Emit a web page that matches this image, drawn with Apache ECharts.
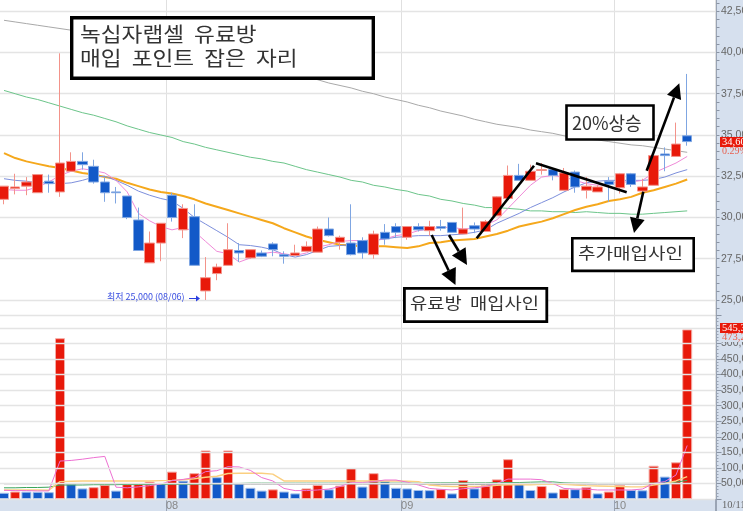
<!DOCTYPE html>
<html lang="ko">
<head>
    <meta charset="UTF-8">
    <title>녹십자랩셀</title>
    <script src="https://cdn.jsdelivr.net/npm/echarts@6/dist/echarts.min.js"></script>
    <style>html,body{margin:0;padding:0;background:#fff}</style>
</head>
<body>
<div id="main" style="width:743px;height:511px;"></div>
<script type="text/javascript">
var monthIndex = [15, 36, 55];
var monthNames = ['08', '09', '10'];
var priceTicks = [25000, 27500, 30000, 32500, 35000, 37500, 40000, 42500];

var opens = [
    31100,31750,31900,31500,32200,31550,32800,33400,33100,32150,
    31550,31300,29850,27250,28450,31350,29250,30050,25550,26600,
    27100,28000,27550,27850,28400,27750,27700,27950,27900,29300,
    28500,28450,28600,27750,29100,29450,28800,29450,29200,29450,
    29700,29000,29500,29150,30100,31150,32550,32250,32850,32900,
    31650,32750,31650,31550,32200,31800,32650,31600,31950,33850,
    33700,34950];
var closes = [
    31900,31850,32150,32600,32050,33300,33400,33200,32150,31500,
    31500,30000,28000,28450,29650,30000,30550,27100,26350,27000,
    28050,27850,28050,27650,28050,27650,27850,28250,29300,28900,
    28800,27750,27850,29000,28700,29100,29450,29250,29450,29350,
    29100,29300,29300,29750,31250,32550,32250,32800,32900,32550,
    32700,31850,31900,31850,32000,32650,32000,31850,33750,33750,
    34450,34600];
var lows = [
    30800,31400,31350,31500,31500,31250,32800,32900,32050,30950,
    30850,29900,28000,27250,27350,29750,28750,27100,25000,26200,
    27100,27300,27500,27600,27650,27200,27650,27950,27900,28850,
    28050,27700,27500,27500,28350,28750,28650,29150,28900,29200,
    29100,29000,29050,29150,30100,31150,32250,32250,32600,32250,
    31650,31500,31150,31550,30950,31450,31850,31550,31950,32800,
    33700,34350];
var highs = [
    31900,32650,32450,32600,32600,39950,33950,33950,33500,32450,
    31850,31300,30600,29150,29650,31500,30800,30800,27600,27200,
    29650,28450,28050,28000,28500,27950,28350,28550,29450,30000,
    28900,30800,28800,29200,29600,29650,29450,29650,29800,29850,
    29700,30600,29700,29850,31300,33150,33250,33200,33300,33000,
    33000,32850,32450,31950,32450,32700,32700,32350,33750,34250,
    35750,38700];

var ma5 = [
    31700,31650,31650,31850,32150,32550,32800,32950,32850,32700,
    32250,31550,30250,29800,29450,29250,29400,29150,28550,27950,
    27800,27300,27550,27800,27900,27800,27700,27850,28200,28350,
    28550,28600,28600,28650,28700,28900,29000,29200,29300,29400,
    29400,29300,29350,29550,29850,30550,31250,31950,32450,32550,
    32450,32250,32050,31950,32050,32150,32150,32250,32700,33000,
    33300,33700];
var ma20 = [
    32350,32250,32200,32100,32100,32050,32100,32250,32450,32500,
    32250,31950,31600,31350,31150,31000,30550,30000,29600,29200,
    28800,28350,28300,28200,28050,27750,27600,27750,28000,28250,
    28300,28350,28450,28600,28700,28800,28850,28900,28900,28900,
    28950,29000,29100,29250,29650,29950,30250,30600,30900,31200,
    31550,31850,32100,32200,32250,32250,32250,32250,32300,32450,
    32700,32900];
var ma60 = [
    33900,33600,33400,33250,33100,33000,32850,32700,32600,32450,
    32350,32100,31900,31700,31550,31450,31300,31100,30850,30650,
    30450,30250,30050,29850,29650,29350,29100,28850,28650,28500,
    28350,28300,28250,28250,28250,28200,28150,28250,28450,28500,
    28600,28650,28700,28850,29000,29200,29450,29600,29750,29950,
    30200,30450,30650,30800,31000,31100,31250,31500,31650,31850,
    32050,32300];
var ma120 = [
    37700,37500,37300,37150,36950,36750,36550,36350,36200,36000,
    35800,35550,35350,35150,35000,34850,34600,34450,34250,34100,
    33950,33800,33650,33550,33400,33300,33100,32900,32750,32600,
    32450,32250,32150,31950,31850,31700,31600,31400,31300,31100,
    31000,30850,30750,30600,30600,30550,30500,30400,30400,30350,
    30350,30300,30350,30300,30250,30250,30200,30200,30250,30300,
    30350,30400];
var ma240 = [
    41950,41850,41750,41650,41550,41450,41350,41250,41100,40950,
    40800,40700,40550,40400,40300,40150,40000,39850,39750,39600,
    39450,39350,39200,39050,38900,38800,38650,38500,38350,38150,
    38000,37850,37650,37500,37300,37150,37000,36800,36650,36450,
    36300,36150,35950,35800,35650,35550,35450,35300,35200,35100,
    34950,34850,34750,34700,34600,34500,34400,34350,34250,34150,
    34050,33950];

// 거래량 (단위: 천주)
var volumes = [
    20,24,23.5,23,22,517,48,34,38,45,
    27,48,48.5,56,50,88,59,83,156,70,
    156,50,36,27,31,24,18,34,45,31,
    43,99,40,83,58,36,34,29,28.5,32,
    18,61,34,44,63,128,50,29,42,21,
    32,31.5,38,18,24,45,29,28,107,72,
    118,545.3];
var volMa5 = [
    28,27,27,26,26,122,124,128,133,137,
    38,36,39,43,48,59,63,69,88,91,
    104,103,92,69,58,34,27,27,29,32,
    40,53,53,56,61,61,54,45,34,31,
    29,33,36,40,50,64,64,64,62,50,
    34,32,32,29,29,29,29,32,50,56,
    77,172];
var volMa20 = [
    29,29,29,29,28,56,57,58,58,58,
    58,58,58,58,59,60,62,65,70,73,
    82,83,83,83,80,58,58,58,58,58,
    58,58,58,58,58,58,57,56,45,42,
    40,40,40,41,44,46,46,46,47,47,
    47,45,43,42,41,40,39,39,45,50,
    58,72];
var volMa60 = [
    36,36,37,37,38,45,45,45,46,46,
    46,47,47,47,47,48,48,48,49,49,
    50,50,51,51,51,51,51,51,51,51,
    51,51,51,51,51,51,51,51,52,52,
    52,52,52,52,53,53,53,54,55,55,
    52,51,51,50,50,50,50,50,51,51,
    54,60];
var volMa120 = [
    49,49,49,49,49,49,49,49,49,49,
    49,48,48,48,48,48,48,48,48,48,
    48,48,48,48,48,48,48,48,48,48,
    48,48,48,48,48,48,48,48,47,47,
    47,47,47,47,47,47,47,47,47,47,
    48,48,48,48,48,48,48,48,49,49,
    49,50];

var red = '#e8190a', blue = '#1259c8';

var categories = [];
for (var c = 0; c < 64; c++) {
    categories.push(String(c));
}
var priceMinor = [];
for (var t = 24500; t <= 43000; t += 500) {
    priceMinor.push(t);
}
var candles = opens.map(function (o, i) {
    return [o, closes[i], lows[i], highs[i]];
});
var volBars = volumes.map(function (v, i) {
    var up = i > 0 && v > volumes[i - 1];
    return {
        value: v,
        itemStyle: {
            color: up ? red : blue,
            borderColor: up ? '#f5aaa4' : '#a4c0ea',
            borderWidth: 1
        }
    };
});

function isMonth(index) {
    return monthIndex.indexOf(index) >= 0;
}

function lineSeries(name, data, color, width, axis, z) {
    return {
        name: name,
        type: 'line',
        data: data,
        xAxisIndex: axis,
        yAxisIndex: axis,
        symbol: 'none',
        silent: true,
        z: z,
        lineStyle: {color: color, width: width}
    };
}

// 주석 상자
function box(x, y, w, h, lw) {
    return {
        type: 'rect', z: 100,
        shape: {x: x, y: y, width: w, height: h},
        style: {fill: '#fff', stroke: '#000', lineWidth: lw}
    };
}
function note(x, y, text, size, stretch) {
    return {
        type: 'text', z: 101, x: x, y: y, scaleX: stretch || 1,
        style: {
            text: text, fill: '#333', textVerticalAlign: 'middle',
            font: size + 'px "Noto Sans CJK KR"'
        }
    };
}
function seg(x1, y1, x2, y2) {
    return {
        type: 'line', z: 100,
        shape: {x1: x1, y1: y1, x2: x2, y2: y2},
        style: {stroke: '#000', lineWidth: 2.6}
    };
}
function arrow(x1, y1, x2, y2, size) {
    var a = Math.atan2(y2 - y1, x2 - x1);
    var bx = x2 - Math.cos(a) * size, by = y2 - Math.sin(a) * size;
    var nx = -Math.sin(a) * size * 0.5, ny = Math.cos(a) * size * 0.5;
    return [seg(x1, y1, bx, by), {
        type: 'polygon', z: 100,
        shape: {points: [[x2, y2], [bx + nx, by + ny], [bx - nx, by - ny]]},
        style: {fill: '#000'}
    }];
}

var smallFont = '10.5px "Liberation Sans Narrow"';
var graphics = [
    {type: 'rect', z: -1, shape: {x: 716, y: 0, width: 27, height: 511}, style: {fill: '#d6e0ee'}},
    {type: 'rect', z: -1, shape: {x: 0, y: 499, width: 743, height: 12}, style: {fill: '#d6e0ee'}},
    {type: 'line', z: 5, shape: {x1: 716.5, y1: 0, x2: 716.5, y2: 511}, style: {stroke: '#9aa4b4', lineWidth: 1}},

    box(71.7, 17.7, 301.6, 60.6, 3.4),
    note(80, 34.5, '녹십자랩셀  유료방', 20, 1.13),
    note(80, 58, '매입  포인트  잡은  자리', 20, 1.13),
    box(404.4, 288.4, 142.4, 33.2, 2.8),
    note(410, 302.5, '유료방  매입사인', 16, 1.17),
    box(566.5, 105.5, 87, 34, 2.6),
    note(572, 123, '20%상승', 18),
    box(572.3, 238.3, 121.4, 32.6, 2.6),
    note(578, 253, '추가매입사인', 16, 1.19),

    seg(476.7, 238.3, 534, 165.7),
    seg(536, 163.3, 626.7, 192.3),

    {type: 'text', z: 20, x: 107, y: 297, style: {
        text: '최저 25,000 (08/06)', fill: '#3a4fe0', textVerticalAlign: 'middle',
        font: '9px "Liberation Sans Narrow", "Noto Sans CJK KR"'
    }},
    {type: 'line', z: 20, shape: {x1: 189, y1: 298.5, x2: 197, y2: 298.5}, style: {stroke: '#2a3fe0', lineWidth: 1}},
    {type: 'polygon', z: 20, shape: {points: [[200, 298.5], [196, 295.5], [196, 301.5]]}, style: {fill: '#2a3fe0'}},

    {type: 'rect', z: 20, shape: {x: 720, y: 137, width: 23, height: 10}, style: {fill: red}},
    {type: 'text', z: 21, x: 722, y: 142, style: {text: '34,600', fill: '#fff', textVerticalAlign: 'middle', font: smallFont}},
    {type: 'text', z: 21, x: 722, y: 151, style: {text: '0.29%', fill: '#e8604f', textVerticalAlign: 'middle', font: '10px "Liberation Sans Narrow"'}},
    {type: 'rect', z: 20, shape: {x: 720, y: 323, width: 23, height: 10}, style: {fill: red}},
    {type: 'text', z: 21, x: 722, y: 328, style: {text: '545,300', fill: '#fff', textVerticalAlign: 'middle', font: smallFont}},
    {type: 'rect', z: 20, shape: {x: 720, y: 333, width: 23, height: 9}, style: {fill: '#d6e0ee'}},
    {type: 'text', z: 21, x: 722, y: 337.5, style: {text: '473,200', fill: '#e8604f', textVerticalAlign: 'middle', font: smallFont}},
    {type: 'text', z: 21, x: 722, y: 505, style: {text: '10/11', fill: '#666', textVerticalAlign: 'middle', font: smallFont}}
];
graphics = graphics.concat(
    arrow(431.7, 235, 455.5, 285, 16),
    arrow(449, 235, 467, 265, 16),
    arrow(643.3, 191.7, 634, 233, 15),
    arrow(646.7, 170.7, 679.3, 83.3, 15)
);

var myChart = echarts.init(document.getElementById('main'));

var ma240Series = lineSeries('MA240', ma240, '#a9a9a9', 1, 0, 1);
// 가격 영역 가로 격자선
ma240Series.markLine = {
    silent: true, symbol: 'none', animation: false, z: 0,
    label: {show: false},
    lineStyle: {color: '#e4e4e4', width: 1.4, type: 'solid'},
    data: priceTicks.map(function (p) { return {yAxis: p}; })
};

var option = {
    animation: false,
    backgroundColor: '#fff',
    textStyle: {fontFamily: '"Liberation Sans Narrow", "Liberation Sans"'},
    grid: [
        {left: -1.6, top: 0, width: 716.8, height: 315.5, outerBoundsMode: 'none'},
        {left: -1.6, top: 315.5, width: 716.8, height: 183.5, outerBoundsMode: 'none'}
    ],
    xAxis: [{
        type: 'category', gridIndex: 0, data: categories,
        axisLine: {lineStyle: {color: '#aaa'}},
        axisTick: {show: false},
        axisLabel: {show: false},
        splitLine: {show: true, interval: isMonth, lineStyle: {color: '#e0e0e0'}}
    }, {
        type: 'category', gridIndex: 1, data: categories,
        axisLine: {lineStyle: {color: '#aaa'}},
        axisTick: {show: true, interval: isMonth, length: 12, lineStyle: {color: '#9aa4b4'}},
        axisLabel: {
            interval: isMonth, margin: 1, color: '#888', fontSize: 11,
            formatter: function (value, index) {
                return monthNames[monthIndex.indexOf(index)] || '';
            }
        },
        splitLine: {show: true, interval: isMonth, lineStyle: {color: '#e0e0e0'}}
    }],
    yAxis: [{
        type: 'value', gridIndex: 0, position: 'right', offset: 1.3,
        min: 24060, max: 43180, z: 5,
        axisLine: {show: true, lineStyle: {color: '#9aa4b4'}},
        axisTick: {show: true, length: 3, customValues: priceMinor, lineStyle: {color: '#8a94a4'}},
        axisLabel: {
            color: '#666', fontSize: 10.5, margin: 4.5, customValues: priceTicks,
            formatter: function (v) { return v.toLocaleString('en-US'); }
        },
        splitLine: {show: false}
    }, {
        type: 'value', gridIndex: 1, position: 'right', offset: 1.3,
        min: 0, max: 590, interval: 50, z: 5,
        axisLine: {show: true, lineStyle: {color: '#9aa4b4'}},
        axisTick: {show: true, length: 5, lineStyle: {color: '#8a94a4'}},
        minorTick: {show: true, splitNumber: 5, length: 2, lineStyle: {color: '#9aa4b4'}},
        axisLabel: {
            color: '#666', fontSize: 10.5, margin: 4.5, showMinLabel: false, showMaxLabel: false,
            formatter: function (v) { return (v * 1000).toLocaleString('en-US'); }
        },
        splitLine: {show: true, lineStyle: {color: '#e4e4e4', width: 1.4}}
    }],
    graphic: graphics,
    series: [
        ma240Series,
        lineSeries('MA120', ma120, '#6cc58a', 1, 0, 1),
        lineSeries('MA60', ma60, '#f5a81c', 2, 0, 1),
        lineSeries('MA20', ma20, '#7d8fdc', 1, 0, 1),
        lineSeries('MA5', ma5, '#f08ad8', 1, 0, 1),
        {
            name: '가격', type: 'candlestick', data: candles, barWidth: 10, z: 2,
            itemStyle: {
                color: red, color0: blue,
                borderColor: '#f3938a', borderColor0: '#7fa6e2', borderWidth: 1
            }
        },
        {
            name: '거래량', type: 'bar', data: volBars, barWidth: 10,
            xAxisIndex: 1, yAxisIndex: 1, z: 2
        },
        lineSeries('V120', volMa120, '#999999', 1, 1, 3),
        lineSeries('V60', volMa60, '#3aa55a', 1, 1, 3),
        lineSeries('V20', volMa20, '#fbcf80', 1.4, 1, 3),
        lineSeries('V5', volMa5, '#ee70d2', 1, 1, 3)
    ]
};
myChart.setOption(option);
</script>
</body>
</html>
